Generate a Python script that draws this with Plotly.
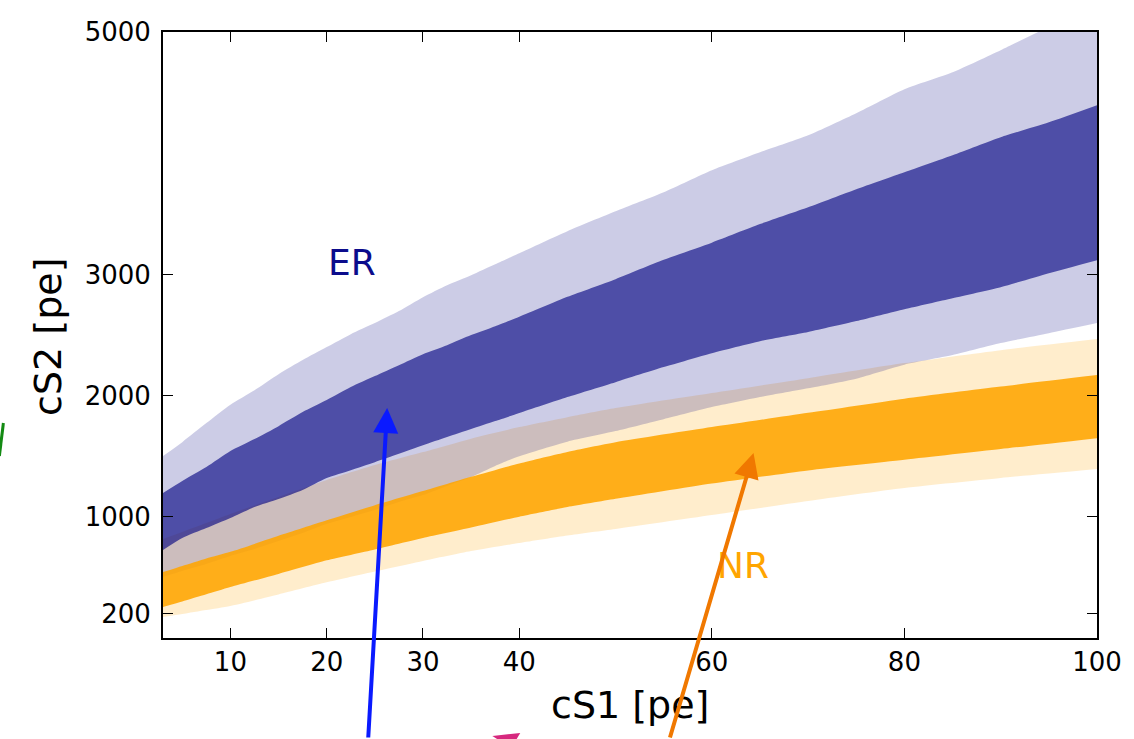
import plotly.graph_objects as go

# cS1 sample points for the electronic-recoil (ER) band edges
x_er = [3, 5, 7.5, 10, 12.5, 15, 17.5, 20, 22.5, 25, 27.5, 30, 32.5, 35, 37.5, 40,
        45, 50, 55, 60, 65, 70, 75, 80, 85, 90, 95, 100]
er_outer_hi = [1501, 1616, 1773, 1925, 2045, 2177, 2293, 2400, 2507, 2598, 2697, 2812, 2911, 2994,
               3084, 3175, 3357, 3521, 3678, 3860, 4008, 4148, 4330, 4528, 4668, 4850, 5040, 5180]
er_inner_hi = [1196, 1295, 1410, 1542, 1641, 1748, 1864, 1963, 2070, 2161, 2251, 2342, 2416, 2499,
               2573, 2650, 2815, 2961, 3120, 3262, 3415, 3554, 3703, 3843, 3983, 4132, 4255, 4396]
er_inner_lo = [726, 825, 907, 990, 1080, 1146, 1221, 1320, 1385, 1451, 1520, 1590, 1658, 1724,
               1790, 1856, 1988, 2111, 2235, 2350, 2449, 2525, 2615, 2713, 2804, 2895, 3010, 3117]
er_outer_lo = [503, 553, 610, 676, 734, 800, 866, 940, 998, 1056, 1122, 1179, 1255, 1328,
               1420, 1500, 1620, 1707, 1805, 1905, 1988, 2060, 2140, 2255, 2334, 2433, 2515, 2598]

# cS1 sample points for the nuclear-recoil (NR) band edges
x_nr = [3, 5, 7.5, 10, 15, 20, 25, 30, 35, 40, 45, 50, 60, 70, 80, 90, 100]
nr_outer_hi = [816, 874, 948, 1023, 1163, 1303, 1427, 1534, 1645, 1740, 1822, 1897, 2021, 2144, 2268, 2375, 2466]
nr_inner_hi = [544, 594, 656, 711, 843, 971, 1095, 1212, 1330, 1440, 1535, 1615, 1740, 1858, 1975, 2075, 2169]
nr_inner_lo = [256, 302, 361, 421, 529, 641, 731, 826, 912, 1001, 1080, 1148, 1274, 1383, 1471, 1559, 1649]
nr_outer_lo = [173, 198, 231, 264, 359, 459, 548, 635, 717, 783, 845, 899, 1014, 1130, 1237, 1320, 1394]

x_ticks = [10, 20, 30, 40, 60, 80, 100]
y_ticks = [200, 1000, 2000, 3000, 5000]

FONT = "DejaVu Sans"


def band(fig, xs, hi, lo, color):
    """Fill between a lower and an upper edge (lower trace first, upper fills down to it)."""
    edge = dict(width=0, shape="spline", smoothing=0.6)
    fig.add_trace(go.Scatter(x=xs, y=lo, mode="lines", line=edge,
                             hoverinfo="skip", showlegend=False))
    fig.add_trace(go.Scatter(x=xs, y=hi, mode="lines", line=edge,
                             fill="tonexty", fillcolor=color,
                             hoverinfo="skip", showlegend=False))


fig = go.Figure()
# draw order: NR 2-sigma, ER 2-sigma, ER 1-sigma, NR 1-sigma
band(fig, x_nr, nr_outer_hi, nr_outer_lo, "rgba(255,165,0,0.2)")
band(fig, x_er, er_outer_hi, er_outer_lo, "rgba(0,0,128,0.2)")
band(fig, x_er, er_inner_hi, er_inner_lo, "rgba(0,0,128,0.62)")
band(fig, x_nr, nr_inner_hi, nr_inner_lo, "rgba(255,165,0,0.88)")

axis_common = dict(
    showline=True, linewidth=2, linecolor="black", mirror="ticks",
    ticks="inside", ticklen=10, tickwidth=1.3, tickcolor="black",
    showgrid=False, zeroline=False,
    tickfont=dict(family=FONT, size=26, color="black"),
)

fig.update_xaxes(range=[3, 100], tickvals=x_ticks, ticktext=[str(v) for v in x_ticks], **axis_common)
fig.update_yaxes(range=[0, 5000], tickvals=y_ticks, ticktext=[str(v) for v in y_ticks],
                 ticklabelstandoff=5, **axis_common)

annotations = [
    # axis titles
    dict(text="cS1 [pe]", xref="paper", yref="paper", x=0.5, y=-0.111,
         xanchor="center", yanchor="middle", showarrow=False,
         font=dict(family=FONT, size=38, color="black")),
    dict(text="cS2 [pe]", xref="paper", yref="paper", x=-0.123, y=0.497,
         xanchor="center", yanchor="middle", textangle=-90, showarrow=False,
         font=dict(family=FONT, size=38, color="black")),
    # band labels
    dict(text="ER", x=22.65, y=3101, xref="x", yref="y", showarrow=False,
         font=dict(family=FONT, size=36, color="#0c0c8c")),
    dict(text="NR", x=63.2, y=602, xref="x", yref="y", showarrow=False,
         font=dict(family=FONT, size=36, color="#ffa500")),
    # pointer arrows coming in from below
    dict(text="", x=26.28, y=1897, xref="x", yref="y", ax=-19, ay=352,
         showarrow=True, arrowhead=2, arrowsize=1.25, arrowwidth=4, arrowcolor="#0a1aff",
         standoff=0),
    dict(text="", x=64.33, y=1526, xref="x", yref="y", ax=-84, ay=307,
         showarrow=True, arrowhead=2, arrowsize=1.25, arrowwidth=4, arrowcolor="#f07800",
         standoff=0),
]

shapes = [
    dict(type="line", xref="paper", yref="paper",
         x0=-0.1752, y0=0.3003, x1=-0.1709, y1=0.3548,
         line=dict(color="#138a13", width=3)),
    dict(type="path", xref="paper", yref="paper",
         path="M 0.3526,-0.1617 L 0.3825,-0.1568 L 0.3729,-0.1815 Z",
         fillcolor="#d6287e", line=dict(width=0)),
]

fig.update_layout(
    width=1134, height=739,
    margin=dict(l=163, r=35, t=32, b=101),
    paper_bgcolor="white", plot_bgcolor="white",
    font=dict(family=FONT, color="black"),
    annotations=annotations,
    shapes=shapes,
    showlegend=False,
)

fig.write_html("out.html")
